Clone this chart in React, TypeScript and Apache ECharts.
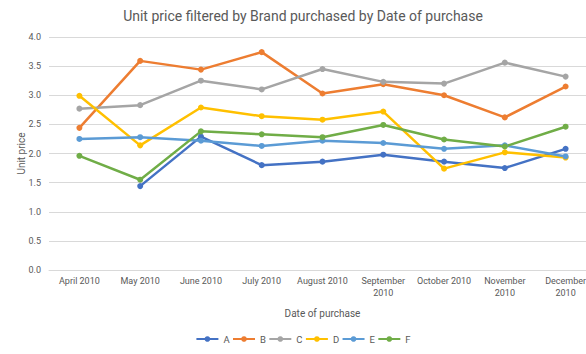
import React, { useEffect, useRef } from "react";
import * as echarts from "echarts";

const categories = [
  "April 2010",
  "May 2010",
  "June 2010",
  "July 2010",
  "August 2010",
  "September 2010",
  "October 2010",
  "November 2010",
  "December 2010",
];

const brandA = [null, 1.44, 2.29, 1.8, 1.86, 1.98, 1.86, 1.75, 2.08];
const brandB = [2.44, 3.59, 3.44, 3.74, 3.03, 3.19, 3.0, 2.62, 3.15];
const brandC = [2.77, 2.83, 3.25, 3.1, 3.45, 3.23, 3.2, 3.56, 3.32];
const brandD = [2.99, 2.14, 2.79, 2.64, 2.58, 2.72, 1.74, 2.02, 1.93];
const brandE = [2.25, 2.28, 2.22, 2.13, 2.22, 2.18, 2.08, 2.14, 1.95];
const brandF = [1.96, 1.55, 2.38, 2.33, 2.28, 2.49, 2.24, 2.12, 2.46];

const seriesNames = ["A", "B", "C", "D", "E", "F"];
const seriesData = [brandA, brandB, brandC, brandD, brandE, brandF];
const colors = ["#4472C4", "#ED7D31", "#A5A5A5", "#FFC000", "#5B9BD5", "#70AD47"];

const FONT = "Roboto, 'Noto Sans', sans-serif";
const TEXT = "#595959";

export default function App() {
  const ref = useRef<HTMLDivElement>(null);
  useEffect(() => {
    document.body.style.margin = "0";
    document.body.style.overflow = "hidden";
    document.documentElement.style.overflow = "hidden";
    if (!ref.current) return;
    const chart = echarts.init(ref.current, null, { renderer: "svg" });
    chart.setOption({
      animation: false,
      color: colors,
      textStyle: { fontFamily: FONT },
      title: {
        text: "Unit price filtered by Brand purchased by Date of purchase",
        left: "center",
        top: 4,
        textStyle: { fontFamily: FONT, fontSize: 14, fontWeight: "normal", color: TEXT },
      },
      grid: { left: 49, right: 10, top: 37, bottom: 84, containLabel: false },
      legend: {
        top: 334,
        left: "center",
        padding: 0,
        itemWidth: 22,
        itemHeight: 7,
        itemGap: 2.4,
        textStyle: { fontFamily: FONT, fontSize: 9.5, color: TEXT },
        data: seriesNames,
      },
      xAxis: {
        type: "category",
        data: categories,
        boundaryGap: true,
        name: "Date of purchase",
        nameLocation: "middle",
        nameGap: 38,
        nameTextStyle: { fontFamily: FONT, fontSize: 10, color: TEXT },
        axisLine: { show: true, lineStyle: { color: "#d9d9d9" } },
        axisTick: { show: false },
        axisLabel: {
          interval: 0,
          color: TEXT,
          fontFamily: FONT,
          fontSize: 9,
          margin: 5,
          lineHeight: 12,
          formatter: (v: string) => (v.length > 12 ? v.replace(" ", "\n") : v),
        },
      },
      yAxis: {
        type: "value",
        min: 0,
        max: 4,
        interval: 0.5,
        name: "Unit price",
        nameLocation: "middle",
        nameGap: 23,
        nameMoveOverlap: false,
        nameRotate: 90,
        nameTextStyle: { fontFamily: FONT, fontSize: 10, color: TEXT },
        axisLine: { show: false },
        axisTick: { show: false },
        axisLabel: {
          color: TEXT,
          fontFamily: FONT,
          fontSize: 9,
          margin: 8,
          formatter: (v: number) => v.toFixed(1),
        },
        splitLine: { lineStyle: { color: "#d9d9d9", width: 1 } },
      },
      series: seriesNames.map((name, i) => ({
        name,
        type: "line",
        data: seriesData[i],
        symbol: "circle",
        symbolSize: 6,
        connectNulls: false,
        lineStyle: { width: 2.5, color: colors[i] },
        itemStyle: { color: colors[i] },
      })),
    });
    return () => chart.dispose();
  }, []);
  return <div ref={ref} style={{ width: 606, height: 354 }} />;
}
